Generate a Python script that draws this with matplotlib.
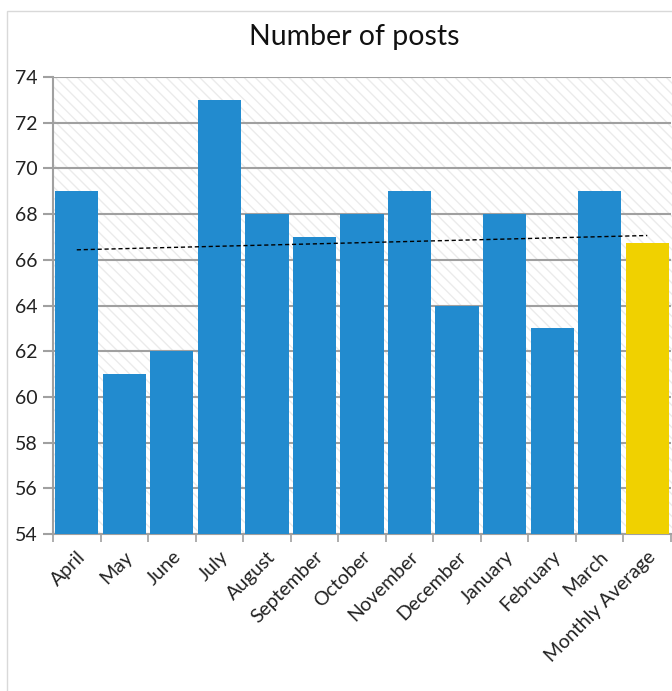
import numpy as np
import matplotlib
matplotlib.use("Agg")
import matplotlib.pyplot as plt
from matplotlib.patches import Rectangle

categories = ["April", "May", "June", "July", "August", "September", "October",
              "November", "December", "January", "February", "March", "Monthly Average"]
monthly_posts = [69, 61, 62, 73, 68, 67, 68, 69, 64, 68, 63, 69]
average = sum(monthly_posts) / len(monthly_posts)
values = monthly_posts + [average]
colors = ["#228BCF"] * len(monthly_posts) + ["#F0D100"]
y_ticks = list(range(54, 75, 2))

plt.rcParams['font.family'] = ['Lato', 'DejaVu Sans']
plt.rcParams['hatch.linewidth'] = 1.0
plt.rcParams['hatch.color'] = '#ebebeb'

W, H = 672, 691
fig = plt.figure(figsize=(W / 100, H / 100), dpi=100)

# chart-area border
fig.patches.append(Rectangle((7 / W, -0.1), 1.2, 1 - 11 / H + 0.1, transform=fig.transFigure,
                             facecolor='white', edgecolor='#d9d9d9', linewidth=1, zorder=-5))

ax = fig.add_axes([53 / W, 1 - 534 / H, (671 - 53) / W, (534 - 77) / H])
ax.set_facecolor('none')
x = np.arange(len(categories))
ax.set_xlim(-0.5, len(categories) - 0.5)
ax.set_ylim(54, 74)
ax.set_clip_on(False)

ax.add_patch(Rectangle((0, 0), 1.02, 1, transform=ax.transAxes, facecolor='white',
                       hatch='\\\\\\', edgecolor='#ebebeb', linewidth=0, zorder=0, clip_on=False))

ax.bar(x, [v - 54 for v in values], bottom=54, width=0.91, color=colors, zorder=3,
       edgecolor=colors, linewidth=0)

slope, intercept = np.polyfit(x, values, 1)
ax.plot([x[0], x[-1]], [intercept, intercept + slope * x[-1]], color='black',
        linestyle=(0, (3, 2)), linewidth=1.0, zorder=4)

ax.set_yticks(y_ticks)
ax.yaxis.grid(True, color='#a0a0a0', linewidth=1.5, zorder=1)
ax.set_axisbelow(True)
ax.tick_params(axis='y', length=7, width=1.5, color='#a0a0a0', labelsize=14, pad=4,
               labelcolor='#222222')

ax.set_xticks(np.arange(len(categories) + 1) - 0.5, minor=False)
ax.set_xticklabels([])
ax.set_xticks(x, minor=True)
ax.set_xticklabels(categories, minor=True, rotation=45, ha='right', rotation_mode='anchor',
                   fontsize=14, color='#222222')
ax.tick_params(axis='x', which='major', length=6, width=1.2, color='#a0a0a0')
ax.tick_params(axis='x', which='minor', length=0, pad=10)

for s in ['top', 'right']:
    ax.spines[s].set_visible(False)
ax.spines['left'].set_color('#a0a0a0')
ax.spines['left'].set_linewidth(1.5)
ax.spines['bottom'].set_color('#a0a0a0')
ax.spines['bottom'].set_linewidth(1.5)

fig.text(354 / W, 1 - 37 / H, "Number of posts", ha='center', va='center', fontsize=20.5,
         color='#111111')

fig.savefig("out.png", dpi=100)
